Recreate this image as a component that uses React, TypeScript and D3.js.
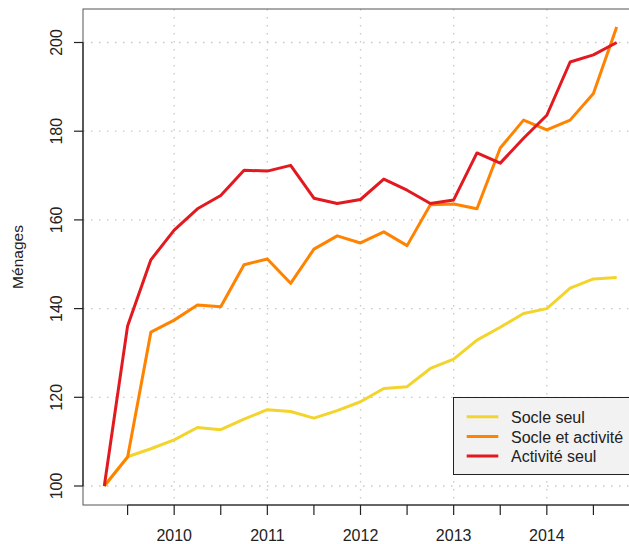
import React from "react";
import * as d3 from "d3";

const quarters = [
  2009.25, 2009.5, 2009.75, 2010, 2010.25, 2010.5, 2010.75, 2011, 2011.25, 2011.5, 2011.75,
  2012, 2012.25, 2012.5, 2012.75, 2013, 2013.25, 2013.5, 2013.75, 2014, 2014.25, 2014.5, 2014.75,
];
const socleSeul = [
  100, 106.6, 108.4, 110.4, 113.2, 112.7, 115.1, 117.2, 116.8, 115.3, 117.0,
  119.0, 122.0, 122.4, 126.5, 128.6, 132.9, 135.8, 138.9, 140.0, 144.6, 146.7, 147.0,
];
const socleActivite = [
  100, 106.5, 134.7, 137.4, 140.8, 140.4, 149.9, 151.2, 145.7, 153.4, 156.4,
  154.8, 157.3, 154.2, 163.4, 163.6, 162.5, 176.2, 182.5, 180.3, 182.5, 188.5, 203.5,
];
const activiteSeul = [
  100, 136.1, 151.0, 157.7, 162.5, 165.5, 171.2, 171.0, 172.3, 164.9, 163.7,
  164.6, 169.2, 166.7, 163.7, 164.5, 175.1, 172.8, 178.4, 183.6, 195.6, 197.2, 200.0,
];
const seriesNames = ["Socle seul", "Socle et activité", "Activité seul"];
const seriesColors = ["#F3D42C", "#FF8300", "#E2191F"];
const yTicks = [100, 120, 140, 160, 180, 200];
const yearTicks = [2010, 2011, 2012, 2013, 2014];
const halfYearTicks = [2009.5, 2010, 2010.5, 2011, 2011.5, 2012, 2012.5, 2013, 2013.5, 2014, 2014.5];
const yLabel = "Ménages";

export default function App() {
  const W = 629;
  const H = 544;
  const left = 83, top = 9, bottom = 505, right = 637;
  const x = d3.scaleLinear().domain([2009.25, 2014.75]).range([104.3, 616.7]);
  const y = d3.scaleLinear().domain([100, 200]).range([486, 42.5]);
  const allSeries = [socleSeul, socleActivite, activiteSeul];
  const line = d3
    .line<number>()
    .x((_, i) => x(quarters[i]))
    .y((d) => y(d));
  const font = "'Liberation Sans', Arial, Helvetica, sans-serif";
  const grid = "#c8c8c8";

  return (
    <svg
      width={W}
      height={H}
      style={{ position: "absolute", left: 0, top: 0, background: "#fff" }}
      fontFamily={font}
    >
      <rect x={0} y={0} width={W} height={H} fill="#fff" />
      {/* grid */}
      {yTicks.map((t) => (
        <line key={"gy" + t} x1={left} x2={right} y1={y(t)} y2={y(t)} stroke={grid} strokeWidth={1.3} strokeDasharray="1.5 6.5" />
      ))}
      {yearTicks.map((t) => (
        <line key={"gx" + t} x1={x(t)} x2={x(t)} y1={top} y2={bottom} stroke={grid} strokeWidth={1.3} strokeDasharray="1.5 6.5" />
      ))}
      {/* box */}
      <rect x={left} y={top} width={right - left} height={bottom - top} fill="none" stroke="#555" strokeWidth={1} />
      {/* series */}
      {allSeries.map((s, k) => (
        <path key={"s" + k} d={line(s) || ""} fill="none" stroke={seriesColors[k]} strokeWidth={3} strokeLinejoin="round" />
      ))}
      {/* y axis */}
      <line x1={left} x2={left} y1={y(200)} y2={y(100)} stroke="#222" strokeWidth={1.2} />
      {yTicks.map((t) => (
        <g key={"yt" + t}>
          <line x1={left - 9} x2={left} y1={y(t)} y2={y(t)} stroke="#222" strokeWidth={1.2} />
          <text
            transform={`translate(${61.5},${y(t)}) rotate(-90)`}
            textAnchor="middle"
            fontSize={16}
            fill="#222"
          >
            {t}
          </text>
        </g>
      ))}
      {/* x axis */}
      <line x1={x(2009.5)} x2={right} y1={bottom} y2={bottom} stroke="#222" strokeWidth={1.2} />
      {halfYearTicks.map((t) => (
        <line key={"xt" + t} x1={x(t)} x2={x(t)} y1={bottom} y2={bottom + 10} stroke="#222" strokeWidth={1.2} />
      ))}
      {yearTicks.map((t) => (
        <text key={"xl" + t} x={x(t)} y={540.7} textAnchor="middle" fontSize={16} fill="#222">
          {t}
        </text>
      ))}
      <text transform={`translate(23,257) rotate(-90)`} textAnchor="middle" fontSize={15.5} fill="#222">
        {yLabel}
      </text>
      {/* legend */}
      <rect x={453.5} y={397.5} width={200} height={77} fill="#f2f2f2" stroke="#222" strokeWidth={1} />
      {seriesNames.map((n, k) => {
        const ly = 416.7 + k * 19.7;
        return (
          <g key={"lg" + k}>
            <line x1={466.7} x2={498.3} y1={ly} y2={ly} stroke={seriesColors[k]} strokeWidth={3} />
            <text x={511} y={ly + 6.3} fontSize={16} fill="#222">
              {n}
            </text>
          </g>
        );
      })}
    </svg>
  );
}
